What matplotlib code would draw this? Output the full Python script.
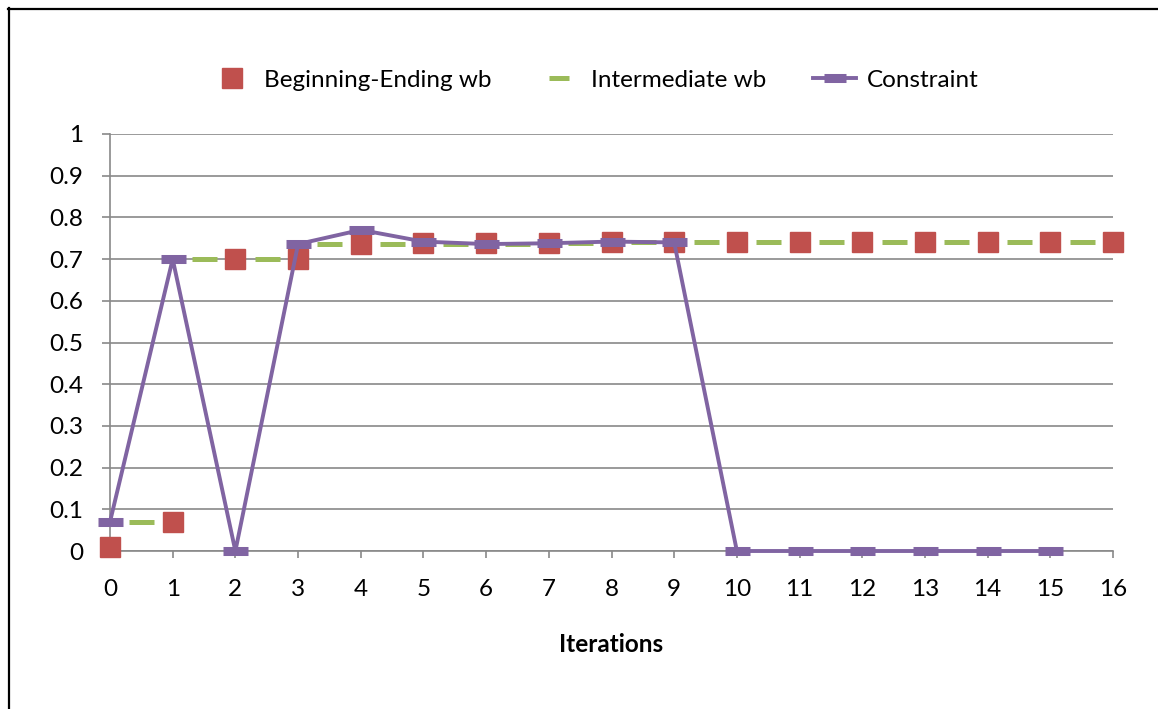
import numpy as np
import matplotlib
matplotlib.use("Agg")
import matplotlib.pyplot as plt
from matplotlib.lines import Line2D

plt.rcParams['font.family'] = ['Lato', 'DejaVu Sans']

# data
x_be = list(range(0, 17))
be_wb = [0.01, 0.07, 0.70, 0.70, 0.736, 0.738, 0.738, 0.738, 0.741, 0.74,
         0.74, 0.74, 0.74, 0.74, 0.74, 0.74, 0.74]

x_mid = [i + 0.5 for i in range(0, 16)]
inter_wb = [0.07, 0.70, 0.70, 0.736, 0.736, 0.736, 0.736, 0.738, 0.74, 0.74,
            0.74, 0.74, 0.74, 0.74, 0.74, 0.74]

x_con = list(range(0, 16))
constraint = [0.07, 0.70, 0.0, 0.736, 0.77, 0.742, 0.736, 0.738, 0.742, 0.74,
              0.0, 0.0, 0.0, 0.0, 0.0, 0.0]

xticks = list(range(0, 17))
yticks = [0, 0.1, 0.2, 0.3, 0.4, 0.5, 0.6, 0.7, 0.8, 0.9, 1]
ylabels = ['0', '0.1', '0.2', '0.3', '0.4', '0.5', '0.6', '0.7', '0.8', '0.9', '1']

red = '#C0504D'
green = '#9BBB59'
purple = '#8064A2'
gray = '#898989'
fs = 17.5

fig = plt.figure(figsize=(11.58, 7.09), dpi=100)
ax = fig.add_axes([110 / 1158, 1 - 551 / 709, (1113 - 110) / 1158, (551 - 134) / 709])

ax.plot(x_mid, inter_wb, linestyle='none', marker='_', ms=18, mew=3.6,
        color=green, zorder=3, clip_on=False)
ax.plot(x_be, be_wb, linestyle='none', marker='s', ms=14, color=red,
        zorder=4, clip_on=False)
ax.plot(x_con, constraint, color=purple, lw=2.8, marker='_', ms=18, mew=6.5,
        zorder=5, clip_on=False)

ax.set_xlim(0, 16)
ax.set_ylim(0, 1)
ax.set_xticks(xticks)
ax.set_xticklabels([str(t) for t in xticks])
ax.set_yticks(yticks)
ax.set_yticklabels(ylabels)
ax.grid(axis='y', color=gray, lw=1.2)
ax.set_axisbelow(True)
for s in ['top', 'right']:
    ax.spines[s].set_visible(False)
for s in ['left', 'bottom']:
    ax.spines[s].set_color(gray)
    ax.spines[s].set_linewidth(1.2)
ax.tick_params(axis='x', direction='out', length=5, width=1.2, color=gray,
               pad=15, labelsize=fs)
ax.tick_params(axis='y', direction='out', length=6, width=1.2, color=gray,
               pad=13, labelsize=fs)

fig.text(611 / 1158, 1 - 645 / 709, 'Iterations', ha='center', va='center',
         fontsize=fs, fontweight='bold')

handles = [
    Line2D([], [], linestyle='none', marker='s', ms=14, color=red),
    Line2D([], [], linestyle='none', marker='_', ms=14, mew=3.6, color=green),
    Line2D([], [], color=purple, lw=2.8, marker='_', ms=16, mew=6.5),
]
fig.legend(handles, ['Beginning-Ending wb', 'Intermediate wb', 'Constraint'],
           loc='center', bbox_to_anchor=(594 / 1158, 1 - 80 / 709), ncol=3,
           frameon=False, fontsize=fs, numpoints=1, handlelength=1.8,
           handletextpad=0.42, columnspacing=1.9)

# chart border (right and bottom edges fall outside the picture)
fig.add_artist(Line2D([8.5 / 1158, 8.5 / 1158], [1 - 8 / 709, 0], color='black',
                      lw=1.6, transform=fig.transFigure))
fig.add_artist(Line2D([8 / 1158, 1], [1 - 8.5 / 709, 1 - 8.5 / 709], color='black',
                      lw=1.6, transform=fig.transFigure))

fig.savefig('out.png', dpi=100)
